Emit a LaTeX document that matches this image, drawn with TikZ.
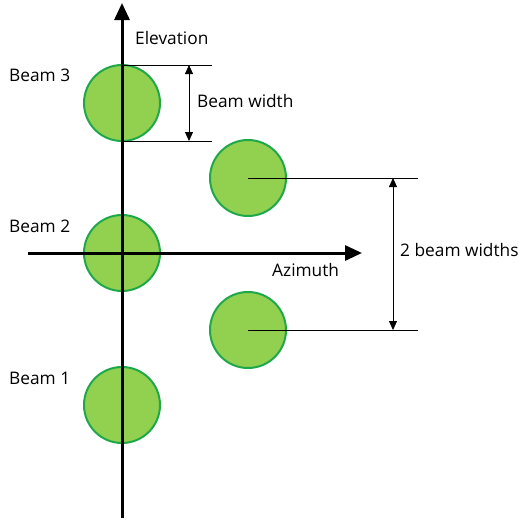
\documentclass[tikz,border=0pt]{standalone}
\usepackage{fontspec}
\setmainfont{Open Sans}
\usetikzlibrary{arrows.meta}
\definecolor{beamfill}{HTML}{92D050}
\definecolor{beamedge}{HTML}{1FA84A}
\begin{document}
\begin{tikzpicture}[x=1pt,y=-1pt,
  beam/.style={circle,minimum size=76pt,inner sep=0pt,fill=beamfill,draw=beamedge,line width=2pt},
  axis/.style={line width=3pt,-{Triangle[length=17pt,width=15pt]}},
  dimline/.style={line width=0.8pt},
  dimarrow/.style={line width=0.8pt,{Triangle[length=9pt,width=8pt]}-{Triangle[length=9pt,width=8pt]}},
  lbl/.style={anchor=west,inner sep=0pt,font=\fontsize{17.3}{20}\selectfont}]
\useasboundingbox (0,0) rectangle (520,522);
% beams
\node[beam] (b3) at (122,103) {};
\node[beam] (b2) at (122,253) {};
\node[beam] (b1) at (122,405) {};
\node[beam] (bu) at (248,178) {};
\node[beam] (bl) at (248,330) {};
% axes
\coordinate (ebot) at (122,518);
\coordinate (etop) at (122,3);
\coordinate (aleft) at (28,253);
\coordinate (aright) at (362,253);
\draw[axis] (ebot) -- (etop);
\draw[axis] (aleft) -- (aright);
% beam width dimension
\coordinate (t2) at (212,65);
\coordinate (u2) at (212,141);
\draw[dimline] (b3.center |- t2) -- (t2);
\draw[dimline] (b3.center |- u2) -- (u2);
\coordinate (wa) at (189,65);
\coordinate (wb) at (189,141);
\draw[dimarrow] (wa) -- (wb);
% two beam widths dimension
\coordinate (r1) at (418,178);
\coordinate (r2) at (418,330);
\draw[dimline] (bu.center) -- (r1);
\draw[dimline] (bl.center) -- (r2);
\coordinate (va) at (393,178);
\coordinate (vb) at (393,330);
\draw[dimarrow] (va) -- (vb);
% labels
\node[lbl] (lel) at (135,38) {Elevation};
\node[lbl] (laz) at (272,270) {Azimuth};
\node[lbl] (l3) at (9,75) {Beam 3};
\node[lbl] (l2) at (9,226) {Beam 2};
\node[lbl] (l1) at (9,378) {Beam 1};
\node[lbl] (lbw) at (197,101) {Beam width};
\node[lbl] (l2bw) at (400,250) {2 beam widths};
\end{tikzpicture}
\end{document}
